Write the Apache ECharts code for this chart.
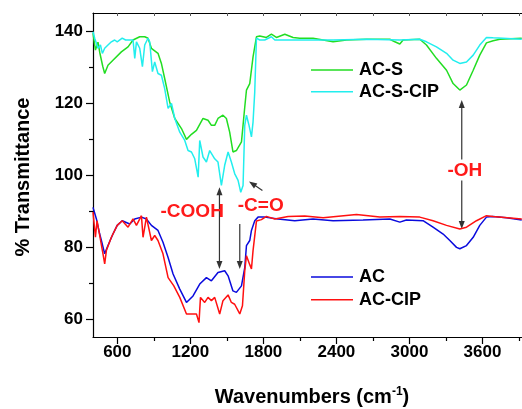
<!DOCTYPE html>
<html>
<head>
<meta charset="utf-8">
<script src="https://cdn.jsdelivr.net/npm/echarts@6/dist/echarts.min.js"></script>
<style>
  html, body { margin: 0; padding: 0; background: #fff; }
  #main { width: 522px; height: 409px; }
</style>
</head>
<body>
<div id="main"></div>
<script>
// --- data (wavenumber cm-1 / % transmittance) ---
var acsWn = [400,420,441,455,480,496,523,564,578,633,688,729,784,825,852,880,934,962,989,1030,1072,1127,1168,1209,1250,1304,1345,1373,1400,1427,1468,1496,1523,1550,1578,1620,1647,1661,1688,1715,1743,1770,1825,1866,1907,1976,2044,2099,2208,2373,2483,2647,2839,2880,2921,2948,3085,3140,3222,3305,3359,3414,3469,3524,3578,3633,3688,3743,3923];
var acsT  = [139.4,134.7,136.9,134.1,130.2,128.2,130.5,131.9,132.4,134.2,135.6,137.5,138.4,138.4,138.0,135.2,133.8,131.0,126.8,120.3,115.7,112.9,109.9,111.3,112.4,115.7,115.2,113.8,113.8,115.7,116.6,115.7,111.9,106.4,106.8,109.2,118.9,123.6,125.4,132.8,138.4,138.6,138.2,139.1,138.2,139.1,138.2,138.0,138.0,137.0,137.5,137.7,137.7,137.0,136.4,137.5,137.7,136.1,132.4,129.1,125.4,123.6,125.0,129.1,133.3,136.7,137.3,137.7,138.0];

var acsCipWn = [400,414,428,441,461,477,496,523,551,578,599,640,668,702,729,743,757,784,806,825,852,866,888,907,934,962,989,1017,1045,1072,1113,1154,1181,1209,1236,1264,1277,1304,1332,1359,1400,1427,1455,1482,1510,1537,1564,1592,1614,1633,1647,1661,1682,1702,1715,1729,1743,1770,1811,1866,1894,1948,2140,2373,2647,2921,3085,3140,3222,3305,3359,3414,3469,3524,3578,3633,3688,3923];
var acsCipT  = [139.8,138.0,138.4,135.2,136.1,133.8,135.2,136.1,137.0,137.5,137.0,138.0,137.5,137.5,137.5,132.4,137.0,135.2,130.1,136.1,138.0,137.0,128.7,131.4,128.2,127.7,124.0,118.5,119.9,115.7,111.9,109.6,106.8,106.4,104.5,99.4,109.6,105.0,103.6,106.8,104.5,103.6,97.1,102.7,106.4,103.6,100.4,98.5,95.2,97.1,113.8,116.6,113.8,110.6,114.7,123.1,138.0,137.5,137.5,138.4,137.5,137.5,137.5,137.5,137.7,137.5,137.7,137.0,135.6,133.8,131.9,131.0,131.4,133.3,136.1,138.2,138.1,137.7];

var acWn = [400,428,455,469,496,523,564,599,640,702,743,798,839,880,934,975,1017,1058,1113,1168,1222,1277,1332,1373,1427,1482,1510,1550,1578,1620,1647,1661,1688,1702,1729,1756,1811,1921,2058,2208,2373,2619,2839,2921,2975,3112,3194,3277,3332,3387,3414,3469,3524,3578,3633,3688,3798,3923];
var acT  = [91.0,87.8,83.6,81.8,78.1,80.4,83.6,86.0,87.3,86.4,87.8,88.3,87.8,86.0,84.6,81.3,77.1,72.5,68.3,64.6,66.4,69.7,71.5,70.6,72.9,73.4,72.0,67.8,67.4,69.2,74.3,80.4,81.8,84.6,87.3,88.3,88.3,87.8,87.3,87.8,87.3,87.5,87.8,86.9,87.5,87.3,85.5,83.6,81.8,79.9,79.5,80.4,82.7,86.0,88.3,88.5,88.1,87.5];

var acCipWn = [400,420,433,455,482,496,510,551,599,640,688,729,757,798,811,839,880,907,934,975,1017,1064,1113,1168,1209,1250,1271,1283,1318,1345,1373,1400,1441,1468,1510,1537,1564,1606,1628,1647,1661,1688,1702,1715,1743,1784,1825,1894,2003,2140,2291,2565,2757,2921,3085,3194,3305,3414,3469,3551,3633,3688,3923];
var acCipT  = [89.7,82.7,87.3,83.2,78.1,75.3,79.0,82.7,86.0,87.3,85.5,87.8,86.0,88.7,82.7,88.3,81.8,83.2,81.8,78.1,71.5,69.2,66.0,61.4,61.4,61.4,59.0,66.0,64.6,66.0,65.1,66.0,61.4,65.1,66.7,64.6,64.1,61.4,63.7,73.4,77.6,75.1,73.9,79.0,87.2,87.6,88.5,87.8,88.5,88.6,88.1,89.0,88.3,88.5,88.3,87.3,86.0,85.0,85.5,87.3,88.7,88.5,87.8];

var xTicks = [600, 1200, 1800, 2400, 3000, 3600];
var xMinorTicks = [900, 1500, 2100, 2700, 3300, 3900];
var xTopTicks = [600, 900, 1200, 1500, 1800, 2100, 2400, 2700, 3000, 3300, 3600, 3900];
var yTicks = [60, 80, 100, 120, 140];
var yMinorTicks = [70, 90, 110, 130];

// annotations, in data coordinates
var notes = [
    { text: '-COOH', at: [1215, 89.7] },
    { text: '-C=O', at: [1778, 91.5] },
    { text: '-OH', at: [3455, 101.3] }
];
var arrows = [
    { from: [1439, 96.6], to: [1439, 73.9], both: true },
    { from: [1606, 86.4], to: [1606, 73.9], both: false },
    { from: [1792, 95.7], to: [1682, 98.2], both: false },
    { from: [3430, 104.3], to: [3430, 120.8], both: false },
    { from: [3430, 98.5], to: [3430, 85.0], both: false }
];

var FONT = '"Liberation Sans", Arial, sans-serif';

function pairs(xs, ys) {
    var out = [];
    for (var i = 0; i < xs.length; i++) out.push([xs[i], ys[i]]);
    return out;
}

function line(name, color, xs, ys) {
    return {
        name: name,
        type: 'line',
        xAxisIndex: 0,
        yAxisIndex: 0,
        symbol: 'none',
        animation: false,
        lineStyle: { color: color, width: 1.5 },
        itemStyle: { color: color },
        data: pairs(xs, ys)
    };
}

var chart = echarts.init(document.getElementById('main'));

var legendText = { fontSize: 18, fontWeight: 'bold', color: '#000', fontFamily: FONT, lineHeight: 18, padding: [0, 0, 0, 1] };

var option = {
    backgroundColor: '#fff',
    animation: false,
    grid: { left: 93, right: 0, top: 13, bottom: 72 },
    legend: [
        {
            data: ['AC-S', 'AC-S-CIP'], orient: 'vertical', left: 311, top: 61,
            icon: 'rect', itemWidth: 42, itemHeight: 1.6, itemGap: 3.7, padding: 0, selectedMode: false,
            textStyle: legendText
        },
        {
            data: ['AC', 'AC-CIP'], orient: 'vertical', left: 311, top: 268,
            icon: 'rect', itemWidth: 42, itemHeight: 1.6, itemGap: 4.7, padding: 0, selectedMode: false,
            textStyle: legendText
        }
    ],
    xAxis: [
        {
            type: 'value', position: 'bottom', min: 400, max: 3925,
            axisLine: { onZero: false, lineStyle: { color: '#000', width: 1.2 } },
            axisTick: { customValues: xTicks, length: 7, lineStyle: { color: '#000', width: 1.2 } },
            axisLabel: {
                customValues: xTicks, margin: 7, color: '#000', fontSize: 17, fontWeight: 'bold', fontFamily: FONT,
                formatter: function (v) { return String(v); }
            },
            splitLine: { show: false }
        },
        {
            type: 'value', position: 'bottom', min: 400, max: 3925,
            axisLine: { show: false, onZero: false },
            axisTick: { customValues: xMinorTicks, length: 4, lineStyle: { color: '#000', width: 1.2 } },
            axisLabel: { show: false },
            splitLine: { show: false }
        },
        {
            type: 'value', position: 'top', min: 400, max: 3925,
            axisLine: { onZero: false, lineStyle: { color: '#000', width: 1.2 } },
            axisTick: { customValues: xTopTicks, inside: true, length: 3, lineStyle: { color: '#555', width: 1 } },
            axisLabel: { show: false },
            splitLine: { show: false }
        }
    ],
    yAxis: [
        {
            type: 'value', position: 'left', min: 55, max: 145,
            axisLine: { show: true, onZero: false, lineStyle: { color: '#000', width: 1.2 } },
            axisTick: { show: true, customValues: yTicks, length: 7, lineStyle: { color: '#000', width: 1.2 } },
            axisLabel: {
                customValues: yTicks, margin: 10, color: '#000', fontSize: 17, fontWeight: 'bold', fontFamily: FONT,
                formatter: function (v) { return String(v); }
            },
            splitLine: { show: false }
        },
        {
            type: 'value', position: 'left', min: 55, max: 145,
            axisLine: { show: false, onZero: false },
            axisTick: { show: true, customValues: yMinorTicks, length: 4, lineStyle: { color: '#000', width: 1.2 } },
            axisLabel: { show: false },
            splitLine: { show: false }
        }
    ],
    series: [
        line('AC-S', '#22dd22', acsWn, acsT),
        line('AC-S-CIP', '#22eeee', acsCipWn, acsCipT),
        line('AC', '#0a0add', acWn, acT),
        line('AC-CIP', '#ff1010', acCipWn, acCipT)
    ]
};

chart.setOption(option);

// arrows and labels are placed through the axes' own mapping
function P(v) {
    return chart.convertToPixel({ xAxisIndex: 0, yAxisIndex: 0 }, v);
}

function head(tip, from) {
    var dx = tip[0] - from[0], dy = tip[1] - from[1];
    var L = Math.sqrt(dx * dx + dy * dy), ux = dx / L, uy = dy / L;
    var hl = 8, hw = 3;
    var bx = tip[0] - ux * hl, by = tip[1] - uy * hl;
    return {
        type: 'polygon',
        shape: { points: [tip, [bx - uy * hw, by + ux * hw], [bx + uy * hw, by - ux * hw]] },
        style: { fill: '#333' },
        silent: true
    };
}

var g = [];
arrows.forEach(function (a) {
    var p1 = P(a.from), p2 = P(a.to);
    var dx = p2[0] - p1[0], dy = p2[1] - p1[1];
    var L = Math.sqrt(dx * dx + dy * dy), ux = dx / L, uy = dy / L;
    var s = a.both ? [p1[0] + ux * 6, p1[1] + uy * 6] : p1;
    var e = [p2[0] - ux * 6, p2[1] - uy * 6];
    g.push({
        type: 'line',
        shape: { x1: s[0], y1: s[1], x2: e[0], y2: e[1] },
        style: { stroke: '#333', lineWidth: 1.2 },
        silent: true
    });
    g.push(head(p2, p1));
    if (a.both) g.push(head(p1, p2));
});

notes.forEach(function (n) {
    var p = P(n.at);
    g.push({
        type: 'text', x: p[0], y: p[1], silent: true,
        style: {
            text: n.text, fill: '#ff1a1a', align: 'center', verticalAlign: 'middle',
            font: 'bold 19px ' + FONT
        }
    });
});

// axis titles
g.push({
    type: 'text', x: 23, y: 177, rotation: Math.PI / 2, silent: true,
    style: {
        text: '% Transmittance', fill: '#000', align: 'center', verticalAlign: 'middle',
        font: 'bold 20px ' + FONT
    }
});
g.push({
    type: 'text', x: 312, y: 397, silent: true,
    style: {
        text: 'Wavenumbers (cm{sup|-1})', fill: '#000', align: 'center', verticalAlign: 'middle',
        font: 'bold 20px ' + FONT,
        rich: {
            sup: { fontSize: 12, fontWeight: 'bold', fontFamily: FONT, verticalAlign: 'top', lineHeight: 22, fill: '#000' }
        }
    }
});

chart.setOption({ graphic: g });

window.addEventListener('resize', function () {
    chart.resize();
});
</script>
</body>
</html>
